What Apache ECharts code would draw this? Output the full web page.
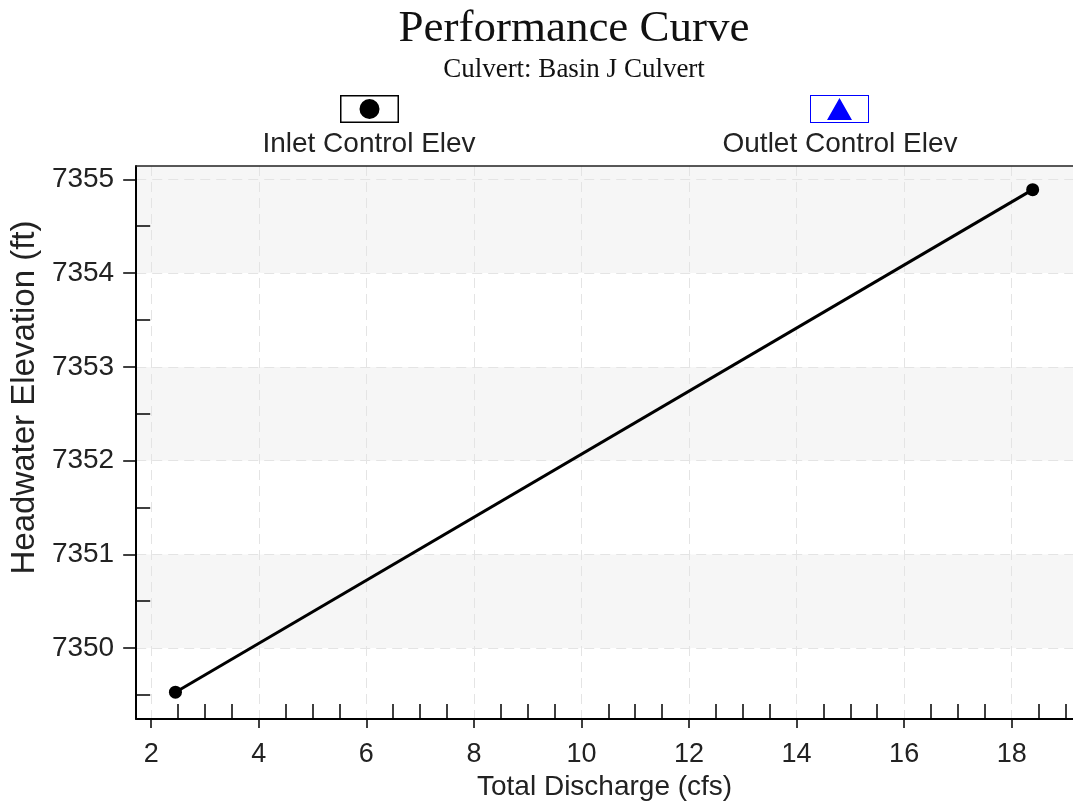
<!DOCTYPE html>
<html>
<head>
<meta charset="utf-8">
<title>Performance Curve</title>
<script src="https://cdn.jsdelivr.net/npm/echarts@6/dist/echarts.min.js"></script>
<style>
html, body { margin: 0; padding: 0; background: #fff; }
#divChart { width: 1073px; height: 806px; }
</style>
</head>
<body>
<div id="divChart"></div>
<script>
var inletName = 'Inlet Control Elev';
var outletName = 'Outlet Control Elev';
var inletData = [[2.45, 7349.53], [18.39, 7354.89]];
var outletData = [];

var xMin = 1.72, xMax = 19.14;
var yMin = 7349.244, yMax = 7355.142;
var xMajor = [2, 4, 6, 8, 10, 12, 14, 16, 18];
var xMinor = [2.5, 3, 3.5, 4.5, 5, 5.5, 6.5, 7, 7.5, 8.5, 9, 9.5, 10.5, 11, 11.5,
              12.5, 13, 13.5, 14.5, 15, 15.5, 16.5, 17, 17.5, 18.5, 19];
var yMajor = [7350, 7351, 7352, 7353, 7354, 7355];
var yMinor = [7349.5, 7350.5, 7351.5, 7352.5, 7353.5, 7354.5];
// band edges (shaded / white alternating, top band runs to the frame)
var yBands = [7350, 7351, 7352, 7353, 7354, 7355, yMax];
var bandColors = ['#f6f6f6', '#ffffff', '#f6f6f6', '#ffffff', '#f6f6f6', '#f6f6f6'];

var sans = 'Liberation Sans, Arial, sans-serif';
var serif = 'Liberation Serif, Times New Roman, serif';

// legend boxes: frame ring + marker, drawn in a 59x28 box
var inletIcon = 'path://M0 0H59V28H0Z M1.5 1.5V26.5H57.5V1.5Z M29.5 4A10 10 0 1 1 29.5 24A10 10 0 1 1 29.5 4Z';
var outletIcon = 'path://M0 0H59V28H0Z M1 1V27H58V1Z M29.5 3L42 25H17Z';

var chart;
var option;

function plainNum(v) {
    return String(v);
}

function chart_init() {
    chart = echarts.init(document.getElementById('divChart'));
    option = {
    animation: false,
    backgroundColor: '#fff',
    title: [
        {
            text: 'Performance Curve',
            subtext: 'Culvert: Basin J Culvert',
            left: 574,
            top: 7,
            textAlign: 'center',
            padding: 0,
            itemGap: 4,
            textStyle: { fontFamily: serif, fontSize: 45, fontWeight: 'normal', color: '#111' },
            subtextStyle: { fontFamily: serif, fontSize: 27, color: '#111' }
        },
        {
            text: inletName,
            left: 369,
            top: 130,
            textAlign: 'center',
            padding: 0,
            textStyle: { fontFamily: sans, fontSize: 28, fontWeight: 'normal', color: '#222' }
        },
        {
            text: outletName,
            left: 840,
            top: 130,
            textAlign: 'center',
            padding: 0,
            textStyle: { fontFamily: sans, fontSize: 28, fontWeight: 'normal', color: '#222' }
        }
    ],
    legend: [
        {
            data: [{ name: inletName, icon: inletIcon }],
            left: 340, top: 95, padding: 0,
            itemWidth: 59, itemHeight: 28,
            itemStyle: { borderWidth: 0 },
            formatter: function () { return ''; }
        },
        {
            data: [{ name: outletName, icon: outletIcon }],
            left: 810, top: 95, padding: 0,
            itemWidth: 59, itemHeight: 28,
            itemStyle: { borderWidth: 0 },
            formatter: function () { return ''; }
        }
    ],
    grid: {
        left: 135,
        right: 0,
        top: 166,
        bottom: 86
    },
    xAxis: [
        {
            type: 'value',
            position: 'bottom',
            min: xMin,
            max: xMax,
            name: 'Total Discharge (cfs)',
            nameLocation: 'middle',
            nameGap: 54,
            nameTextStyle: { fontFamily: sans, fontSize: 28, color: '#222' },
            axisLine: { onZero: false, lineStyle: { color: '#000', width: 2 } },
            axisTick: { customValues: xMajor, length: 9, lineStyle: { color: '#000', width: 1.5 } },
            axisLabel: { customValues: xMajor, formatter: plainNum, margin: 22, fontFamily: sans, fontSize: 27, color: '#222' },
            splitLine: { show: true, lineStyle: { color: '#e4e4e4', width: 1, type: [10, 6] } }
        },
        {
            type: 'value',
            position: 'bottom',
            min: xMin,
            max: xMax,
            axisLine: { show: false },
            axisTick: { customValues: xMinor, inside: true, length: 15, lineStyle: { color: '#000', width: 1.5 } },
            axisLabel: { show: false },
            splitLine: { show: false }
        },
        {
            type: 'value',
            position: 'top',
            min: xMin,
            max: xMax,
            axisLine: { onZero: false, lineStyle: { color: '#222', width: 1.5 } },
            axisTick: { show: false },
            axisLabel: { show: false },
            splitLine: { show: false }
        }
    ],
    yAxis: [
        {
            type: 'value',
            position: 'left',
            min: yMin,
            max: yMax,
            name: 'Headwater Elevation (ft)',
            nameLocation: 'middle',
            nameGap: 95,
            nameTextStyle: { fontFamily: sans, fontSize: 33, color: '#222', padding: [0, 0, 0, 90] },
            axisLine: { onZero: false, lineStyle: { color: '#000', width: 2 } },
            axisTick: { customValues: yMajor, length: 13, lineStyle: { color: '#000', width: 1.5 } },
            axisLabel: { customValues: yMajor, formatter: plainNum, margin: 22, fontFamily: sans, fontSize: 28, color: '#222' },
            splitLine: { show: true, lineStyle: { color: '#e4e4e4', width: 1, type: [10, 6] } }
        },
        {
            type: 'value',
            position: 'left',
            min: yMin,
            max: yMax,
            axisLine: { show: false },
            axisTick: { customValues: yMinor, inside: true, length: 14, lineStyle: { color: '#000', width: 1.5 } },
            axisLabel: { show: false },
            splitLine: { show: false }
        },
        {
            type: 'value',
            position: 'left',
            min: yMin,
            max: yMax,
            z: -1,
            axisLine: { show: false },
            axisTick: { show: false, customValues: yBands },
            axisLabel: { show: false },
            splitLine: { show: false },
            splitArea: { show: true, areaStyle: { color: bandColors } }
        }
    ],
    series: [
        {
            name: inletName,
            type: 'line',
            color: '#000',
            symbol: 'circle',
            symbolSize: 13,
            lineStyle: { color: '#000', width: 3 },
            data: inletData
        },
        {
            name: outletName,
            type: 'line',
            color: '#0000ff',
            symbol: 'triangle',
            symbolSize: 14,
            lineStyle: { color: '#0000ff', width: 3 },
            data: outletData
        }
    ]
    };
    chart.setOption(option);
}

chart_init();
</script>
</body>
</html>
